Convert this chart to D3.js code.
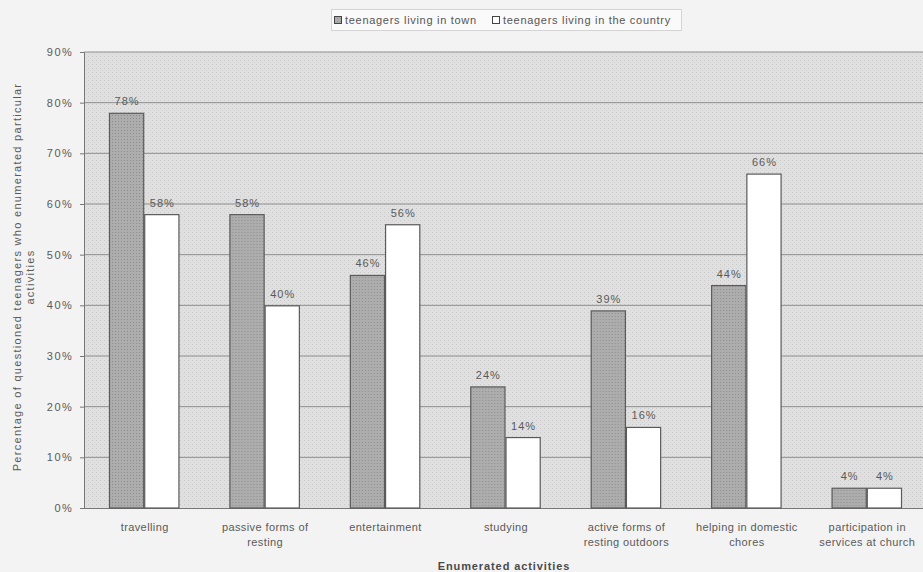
<!DOCTYPE html>
<html>
<head>
<meta charset="utf-8">
<script src="https://cdn.jsdelivr.net/npm/d3@7"></script>
<style>
  html, body { margin: 0; padding: 0; background: #f3f3f3; }
  svg { display: block; font-family: "Liberation Sans", Arial, sans-serif; }
</style>
</head>
<body>
<svg id="chart" width="923" height="572"></svg>
<script>
const categories = [
  ["travelling"],
  ["passive forms of", "resting"],
  ["entertainment"],
  ["studying"],
  ["active forms of", "resting outdoors"],
  ["helping in domestic", "chores"],
  ["participation in", "services at church"]
];
const seriesNames = ["teenagers living in town", "teenagers living in the country"];
const townValues = [78, 58, 46, 24, 39, 44, 4];
const countryValues = [58, 40, 56, 14, 16, 66, 4];
const yTicks = [0, 10, 20, 30, 40, 50, 60, 70, 80, 90];
const yTitle = ["Percentage of questioned teenagers who enumerated particular", "activities"];
const xTitle = "Enumerated activities";

const svg = d3.select("#chart");
const W = 923, H = 572;
const margin = {left: 84, right: -4, top: 52, bottom: 64};
const plotW = W - margin.left - margin.right;
const plotH = H - margin.top - margin.bottom;

const defs = svg.append("defs");
const bgPat = defs.append("pattern").attr("id", "bgdots").attr("patternUnits", "userSpaceOnUse")
  .attr("width", 4).attr("height", 4);
bgPat.append("rect").attr("width", 4).attr("height", 4).attr("fill", "#e0e0e0");
bgPat.append("rect").attr("x", 0).attr("y", 0).attr("width", 1).attr("height", 1).attr("fill", "#c8c8c8");
bgPat.append("rect").attr("x", 2).attr("y", 2).attr("width", 1).attr("height", 1).attr("fill", "#d2d2d2");

const barPat = defs.append("pattern").attr("id", "bardots").attr("patternUnits", "userSpaceOnUse")
  .attr("width", 3).attr("height", 3);
barPat.append("rect").attr("width", 3).attr("height", 3).attr("fill", "#adadad");
barPat.append("rect").attr("x", 0).attr("y", 0).attr("width", 1).attr("height", 1).attr("fill", "#8e8e8e");

const g = svg.append("g").attr("transform", `translate(${margin.left},${margin.top})`);

const x0 = d3.scaleBand().domain(d3.range(categories.length)).range([0, plotW]).paddingInner(0.415).paddingOuter(0.2075);
const x1 = d3.scaleBand().domain([0, 1]).range([0, x0.bandwidth()]);
const y = d3.scaleLinear().domain([0, 90]).range([plotH, 0]);

// plot background
g.append("rect").attr("x", 0).attr("y", 0).attr("width", plotW).attr("height", plotH)
  .attr("fill", "url(#bgdots)");

// gridlines
g.append("g").selectAll("line").data(yTicks.filter(d => d > 0)).join("line")
  .attr("x1", 0).attr("x2", plotW)
  .attr("y1", d => y(d)).attr("y2", d => y(d))
  .attr("stroke", "#8e8e8e").attr("stroke-width", 1);

// axes
const yAxis = d3.axisLeft(y).tickValues(yTicks).tickFormat(d => d + "%").tickSize(4).tickPadding(6.5);
const ya = g.append("g").call(yAxis);
ya.select(".domain").attr("stroke", "#777");
ya.selectAll(".tick line").attr("stroke", "#777");
ya.selectAll(".tick text").attr("fill", "#5a5a5a").attr("font-size", 11)
  .attr("font-family", "'Liberation Sans', Arial, sans-serif").attr("letter-spacing", 1.6);

g.append("line").attr("x1", 0).attr("x2", plotW).attr("y1", plotH + 0.5).attr("y2", plotH + 0.5)
  .attr("stroke", "#777");

// bars
const data = categories.map((c, i) => ({i, vals: [townValues[i], countryValues[i]]}));
const groups = g.append("g").selectAll("g").data(data).join("g")
  .attr("transform", d => `translate(${x0(d.i)},0)`);

groups.selectAll("rect").data(d => d.vals.map((v, k) => ({v, k}))).join("rect")
  .attr("x", d => x1(d.k) + 0.5)
  .attr("y", d => y(d.v) + 0.5)
  .attr("width", x1.bandwidth() - 1)
  .attr("height", d => plotH - y(d.v) - 0.5)
  .attr("fill", d => d.k === 0 ? "url(#bardots)" : "#ffffff")
  .attr("stroke", "#5a5a5a").attr("stroke-width", 1.2);

groups.selectAll("text").data(d => d.vals.map((v, k) => ({v, k}))).join("text")
  .attr("x", d => x1(d.k) + x1.bandwidth() / 2 + 0.5)
  .attr("y", d => y(d.v) - 7.5)
  .attr("text-anchor", "middle")
  .attr("font-size", 11).attr("letter-spacing", 1).attr("fill", "#5a5a5a")
  .text(d => d.v + "%");

// category labels
const cl = g.append("g").selectAll("text").data(categories).join("text")
  .attr("x", (d, i) => x0(i) + x0.bandwidth() / 2 + 0.5)
  .attr("y", plotH + 23)
  .attr("text-anchor", "middle").attr("font-size", 11).attr("letter-spacing", 0.4).attr("fill", "#5a5a5a");
cl.selectAll("tspan").data(d => d).join("tspan")
  .attr("x", function() { return d3.select(this.parentNode).attr("x"); })
  .attr("dy", (d, i) => i === 0 ? 0 : 14.5)
  .text(d => d);

// x title
svg.append("text").attr("x", 504).attr("y", 570).attr("text-anchor", "middle")
  .attr("font-size", 11).attr("letter-spacing", 0.9).attr("font-weight", "bold").attr("fill", "#4a4a4a").text(xTitle);

// y title
const yt = svg.append("text").attr("transform", `translate(21,277) rotate(-90)`)
  .attr("text-anchor", "middle").attr("font-size", 11).attr("letter-spacing", 1.3).attr("fill", "#5a5a5a");
yt.selectAll("tspan").data(yTitle).join("tspan")
  .attr("x", 0).attr("dy", (d, i) => i === 0 ? 0 : 13).text(d => d);

// legend
const lg = svg.append("g").attr("transform", "translate(331,9)");
lg.append("rect").attr("x", 0.5).attr("y", 0.5).attr("width", 350).attr("height", 21)
  .attr("fill", "#fafafa").attr("stroke", "#d4d4d4");
const items = [{x: 3, fill: "url(#bardots)"}, {x: 161, fill: "#ffffff"}];
items.forEach((it, k) => {
  lg.append("rect").attr("x", it.x + 0.5).attr("y", 7.5).attr("width", 7).attr("height", 7)
    .attr("fill", it.fill).attr("stroke", "#444");
  lg.append("text").attr("x", it.x + 11).attr("y", 15).attr("font-size", 11).attr("letter-spacing", 0.7).attr("fill", "#555")
    .text(seriesNames[k]);
});
</script>
</body>
</html>
